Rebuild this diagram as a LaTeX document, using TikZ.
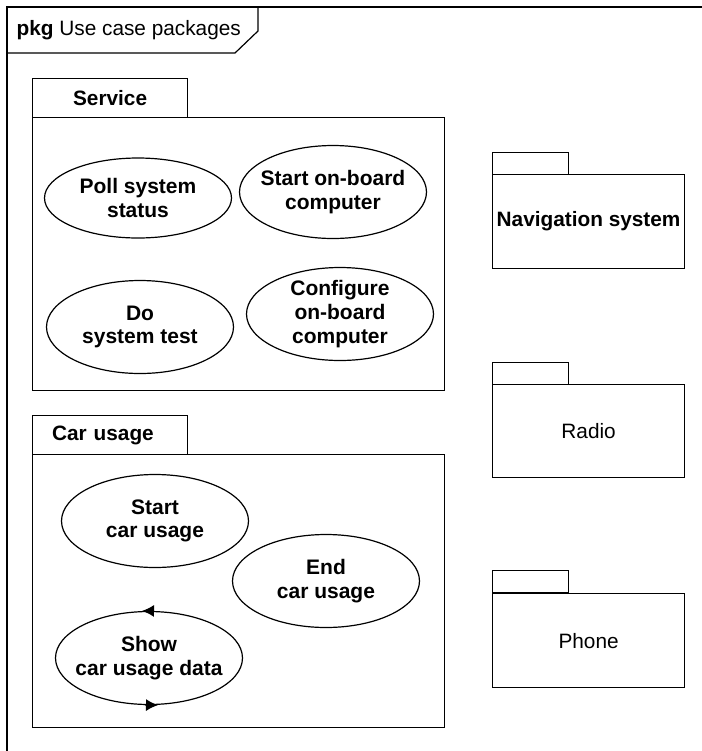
\documentclass[tikz,border=0pt]{standalone}
\usepackage{fontspec}
\setmainfont{Liberation Sans}
\usetikzlibrary{arrows.meta,shapes.geometric}

\begin{document}
\begin{tikzpicture}[x=0.5pt,y=-0.5pt,line width=0.6pt,>={Latex[length=6pt,width=6pt]},
    every node/.style={font=\fontsize{10.4}{11.8}\selectfont},
    pkgtab/.style={draw,anchor=north west,inner sep=0pt,minimum width=77.5pt,minimum height=19.5pt,font=\fontsize{10.4}{11.8}\selectfont\bfseries},
    pkgbody/.style={draw,anchor=north west,inner sep=0pt},
    smalltab/.style={draw,anchor=north west,inner sep=0pt,minimum width=38pt,minimum height=11pt},
    usecase/.style={draw,ellipse,inner sep=0pt,minimum width=93.5pt,minimum height=46.5pt},
    uclabel/.style={align=center,font=\fontsize{10.5}{11.8}\selectfont\bfseries}]
  \useasboundingbox (0,0) rectangle (702,751);
  % frame
  \draw (702,7) -- (7,7) -- (7,751);
  \node[anchor=west,inner sep=0pt] (framelabel) at (16,30) {\textbf{pkg} Use case packages};
  \draw (7,53) -- (235,53) -- (258,31) -- (258,7);
  % Service
  \node[pkgtab] (servicetab) at (32,78) {Service};
  \node[pkgbody,minimum width=206pt,minimum height=136.5pt] (service) at (32,117) {};
  \node[usecase,minimum height=40pt,label={[uclabel]center:Poll system\\status}] (poll) at (138,198) {};
  \node[usecase,label={[uclabel]center:Start on-board\\computer}] (startob) at (333,192) {};
  \node[usecase,label={[uclabel]center:Do\\system test}] (dotest) at (140,327) {};
  \node[usecase,label={[uclabel]center:Configure\\on-board\\computer}] (config) at (340,314) {};
  % Car usage
  \node[pkgtab,text width=58pt] (cartab) at (32,415) {Car usage};
  \node[pkgbody,minimum width=206pt,minimum height=136.5pt] (carusage) at (32,454) {};
  \node[usecase,label={[uclabel]center:Start\\car usage}] (startcar) at (155,521) {};
  \node[usecase,label={[uclabel]center:End\\car usage}] (endcar) at (326,581) {};
  \node[usecase,label={[uclabel]center:Show\\car usage data}] (showdata) at (149,658) {};
  \draw[->] (showdata.85) -- ([xshift=-3.5pt]showdata.north);
  \draw[->] (showdata.265) -- ([xshift=4.5pt]showdata.south);
  % other packages
  \node[smalltab] (navtab) at (492,152) {};
  \node[pkgbody,minimum width=96pt,minimum height=47pt,font=\fontsize{10.4}{11.8}\selectfont\bfseries] (nav) at (492,174) {Navigation system};
  \node[smalltab] (radiotab) at (492,362) {};
  \node[pkgbody,minimum width=96pt,minimum height=46.5pt] (radio) at (492,384) {Radio};
  \node[smalltab] (phonetab) at (492,570) {};
  \node[pkgbody,minimum width=96pt,minimum height=47pt] (phone) at (492,593) {Phone};
\end{tikzpicture}
\end{document}
